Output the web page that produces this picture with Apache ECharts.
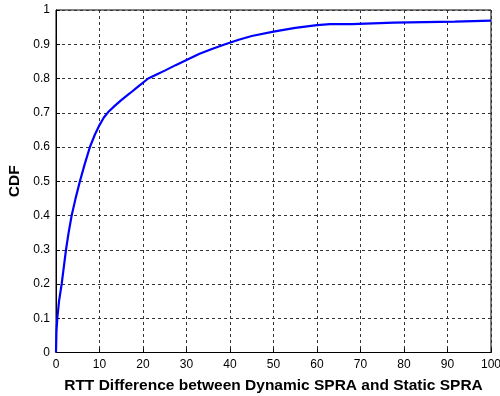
<!DOCTYPE html>
<html><head><meta charset="utf-8">
<script src="https://cdn.jsdelivr.net/npm/echarts@6/dist/echarts.min.js"></script>
<style>html,body{margin:0;padding:0;background:#fff}#c{width:500px;height:396px}</style>
</head><body><div id="c"></div>
<script>
const xValues = [0, 0.1, 0.3, 0.7, 1.3, 1.8, 2.3, 2.9, 3.6, 4.5, 5.5, 6.6, 7.8, 8.9, 10, 11, 12, 13.5, 15, 17, 19, 21.2, 23, 25, 27.5, 30, 33, 36, 38.9, 42, 45, 50, 55, 60, 63, 68, 68, 77.7, 77.7, 91.7, 91.7, 100];
const cdfValues = [0, 0.06, 0.1, 0.15, 0.2, 0.25, 0.3, 0.35, 0.4, 0.45, 0.5, 0.55, 0.6, 0.635, 0.664, 0.686, 0.702, 0.72, 0.737, 0.757, 0.778, 0.8, 0.811, 0.823, 0.839, 0.854, 0.872, 0.887, 0.9, 0.913, 0.924, 0.937, 0.948, 0.956, 0.959, 0.959, 0.963, 0.963, 0.966, 0.966, 0.969, 0.969];
const xTicks = [0,10,20,30,40,50,60,70,80,90,100];
const yTicks = [0,0.1,0.2,0.3,0.4,0.5,0.6,0.7,0.8,0.9,1];
const xTitle = 'RTT Difference between Dynamic SPRA and Static SPRA';
const yTitle = 'CDF';

const chart = echarts.init(document.getElementById('c'), null, {renderer:'canvas'});
const font = 'Liberation Sans, Arial, sans-serif';
chart.setOption({
  animation:false,
  grid:{left:56, right:9, top:10, bottom:43.5, outerBoundsMode:'none', containLabel:false, show:true, borderColor:'#000', borderWidth:1, backgroundColor:'#fff'},
  xAxis:{type:'value', min:0, max:100, interval:10,
    axisLine:{show:true, lineStyle:{color:'#000', width:1}},
    axisTick:{show:true, inside:true, length:4, lineStyle:{color:'#000'}},
    axisLabel:{color:'#000', fontFamily:font, fontSize:12, margin:6,
      formatter:v=>xTicks.includes(v)?String(v):''},
    splitLine:{show:true, lineStyle:{color:'#333', type:[3,3], width:1}},
    name:xTitle, nameLocation:'middle', nameGap:25,
    nameTextStyle:{color:'#000', fontFamily:font, fontSize:15.5, fontWeight:'bold'}
  },
  yAxis:{type:'value', min:0, max:1, interval:0.1,
    axisLine:{show:true, lineStyle:{color:'#000', width:1}},
    axisTick:{show:true, inside:true, length:4, lineStyle:{color:'#000'}},
    axisLabel:{color:'#000', fontFamily:font, fontSize:12, margin:6,
      formatter:v=>{const t=yTicks.find(k=>Math.abs(k-v)<1e-9); return t===undefined?'':String(t);}},
    splitLine:{show:true, lineStyle:{color:'#333', type:[3,3], width:1}},
    name:yTitle, nameLocation:'middle', nameGap:33, nameRotate:90,
    nameTextStyle:{color:'#000', fontFamily:font, fontSize:15.5, fontWeight:'bold'}
  },
  series:[{type:'line', data:xValues.map((x,i)=>[x,cdfValues[i]]), showSymbol:false, smooth:false,
    lineStyle:{color:'#0000ff', width:2.2}, clip:true}]
});
</script></body></html>
